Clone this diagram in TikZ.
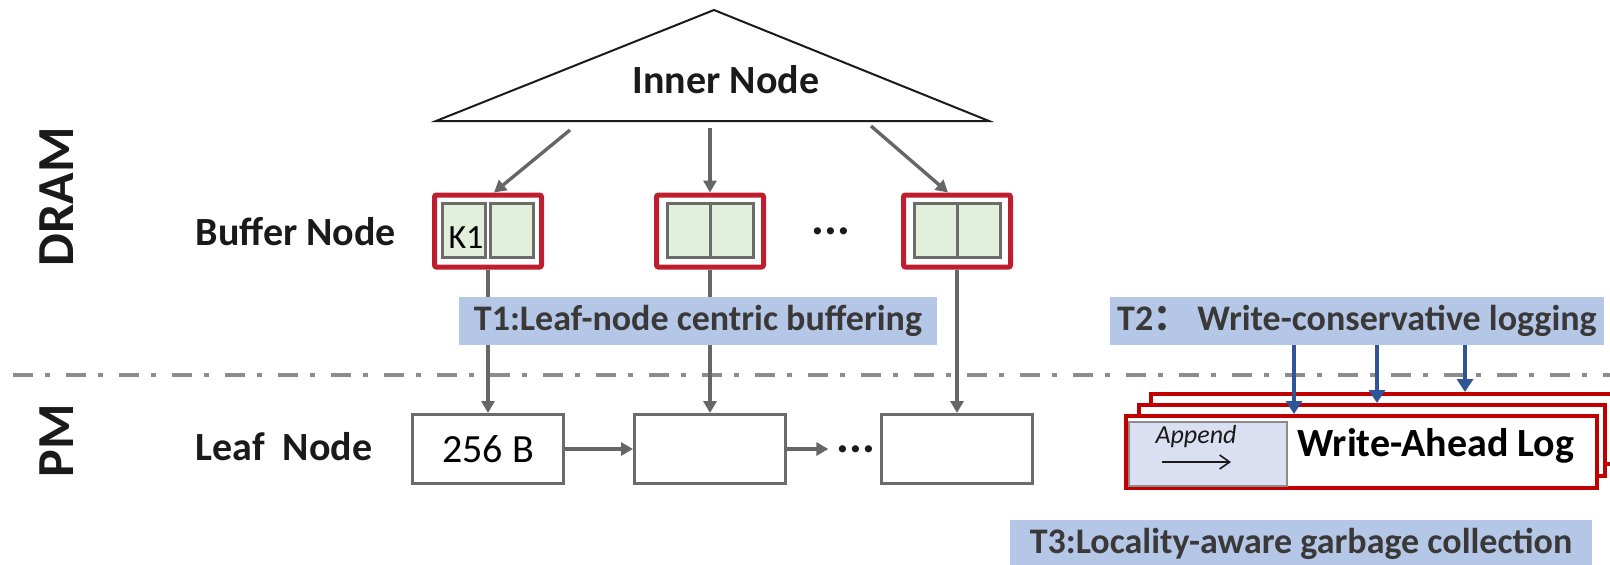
\documentclass[tikz,border=0pt]{standalone}
\usepackage{fontspec}
\setmainfont{Carlito}
\newfontfamily\cjk{Noto Sans CJK SC}
\usepackage{tikz}
\usetikzlibrary{arrows.meta,calc}
\usepackage{xcolor}
\definecolor{bufred}{HTML}{BE1E2D}
\definecolor{walred}{HTML}{C00000}
\definecolor{cellgreen}{HTML}{E2EFDA}
\definecolor{cellgray}{HTML}{6B6B6B}
\definecolor{arrowgray}{HTML}{666666}
\definecolor{labelblue}{HTML}{B4C7E7}
\definecolor{labeltext}{HTML}{3B3838}
\definecolor{arrowblue}{HTML}{2F5597}
\definecolor{sepgray}{HTML}{8C8C8C}
\definecolor{appfill}{HTML}{DAE0F2}
\definecolor{appgray}{HTML}{8C8C8C}
\definecolor{textblack}{HTML}{1A1A1A}

\begin{document}
\begin{tikzpicture}[x=0.5pt,y=-0.5pt]
  \tikzset{bufnode/.style={draw=bufred,line width=2.5pt,rounded corners=1pt,minimum width=53.5pt,minimum height=36pt,inner sep=0pt}}
  \tikzset{bufcell/.style={draw=cellgray,fill=cellgreen,line width=1.5pt,minimum width=21.5pt,minimum height=27pt,inner sep=0pt}}
  \tikzset{leafnode/.style={draw=cellgray,line width=1.5pt,minimum width=75.5pt,minimum height=34.5pt,inner sep=0pt,text=black,font=\fontsize{20}{24}\selectfont}}
  \tikzset{walnode/.style={draw=walred,fill=white,line width=2pt,inner sep=0pt}}
  \tikzset{techlabel/.style={fill=labelblue,text=labeltext,inner sep=0pt,minimum height=24pt,font=\fontsize{18}{22}\selectfont\bfseries}}
  \tikzset{sidelabel/.style={text=textblack,inner sep=0pt,font=\fontsize{20}{24}\selectfont\bfseries}}
  \tikzset{memlabel/.style={rotate=90,text=textblack,inner sep=0pt,font=\fontsize{26}{30}\selectfont\bfseries}}
  \tikzset{dotsnode/.style={text=textblack,inner sep=0pt,font=\fontsize{24}{26}\selectfont\bfseries}}
  \tikzset{grayedge/.style={draw=arrowgray,line width=1.7pt,-{Triangle[length=6pt,width=6.5pt]}}}
  \tikzset{blueedge/.style={draw=arrowblue,line width=2.2pt,-{Triangle[length=6.5pt,width=8pt]}}}
  \useasboundingbox (0,0) rectangle (1610,564);
  \node[memlabel] (dram) at (57,197) {DRAM};
  \node[memlabel] (pm) at (57,441) {PM};
  \coordinate (apex) at (714,10);
  \coordinate (baseL) at (436,121);
  \coordinate (baseR) at (989,121);
  \draw[line width=1pt,draw=textblack] (apex) -- (baseR) -- (baseL) -- cycle;
  \node[sidelabel] (inner) at (726,80) {Inner Node};
  \node[sidelabel] (buflabel) at (296,232) {Buffer Node};
  \node[sidelabel] (leaflabel) at (284,447) {Leaf\ \ Node};
  \node[bufnode] (bufA) at (488,231) {};
  \node[bufcell] (cellA1) at (464,230) {};
  \node[bufcell] (cellA2) at (512,230) {};
  \node[text=black,inner sep=0pt,font=\fontsize{17}{20}\selectfont] (k1) at (466,238) {K1};
  \node[bufnode] (bufB) at (710,231) {};
  \node[bufcell] (cellB1) at (688.5,230) {};
  \node[bufcell] (cellB2) at (731.5,230) {};
  \node[dotsnode] (dotsA) at (831,231) {...};
  \node[bufnode] (bufC) at (957,231) {};
  \node[bufcell] (cellC1) at (935.5,230) {};
  \node[bufcell] (cellC2) at (978.5,230) {};
  \node[leafnode] (leafA) at (488,449) {256 B};
  \node[leafnode] (leafB) at (710,449) {};
  \node[dotsnode] (dotsB) at (856,449) {...};
  \node[leafnode] (leafC) at (957,449) {};
  \coordinate (inA) at (570,130);
  \coordinate (inB) at (710,128);
  \coordinate (inC) at (871,126);
  \draw[grayedge] (inA) -- ($(bufA.north)+(6,0)$);
  \draw[grayedge] (inB) -- (bufB.north);
  \draw[grayedge] (inC) -- ($(bufC.north)+(-9,0)$);
  \coordinate (sepL) at (13,375);
  \coordinate (sepR) at (1610,375);
  \draw[draw=sepgray,line width=2.2pt,dash pattern=on 10pt off 6pt on 2.5pt off 8pt] (sepL) -- (sepR);
  \draw[grayedge] (bufA.south) -- (leafA.north);
  \draw[grayedge] (bufB.south) -- (leafB.north);
  \draw[grayedge] (bufC.south) -- (leafC.north);
  \draw[grayedge] (leafA.east) -- (leafB.west);
  \draw[grayedge,shorten >=4pt] (leafB.east) -- (dotsB.west);
  \node[techlabel,minimum width=239pt] (t1) at (698,321) {T1:Leaf-node centric buffering};
  \node[techlabel,minimum width=247pt] (t2) at (1357,321) {T2{\cjk ：}\ Write-conservative logging};
  \node[techlabel,minimum width=291pt] (t3) at (1301,544) {T3:Locality-aware garbage collection};
  \node[walnode,minimum width=234.5pt,minimum height=35pt] (walC) at (1385,429) {};
  \node[walnode,minimum width=233pt,minimum height=35.5pt] (walB) at (1372,440.5) {};
  \node[walnode,minimum width=235.5pt,minimum height=36pt] (walA) at (1361.5,452) {};
  \node[draw=appgray,fill=appfill,line width=1pt,minimum width=79pt,minimum height=32pt,inner sep=0pt] (app) at (1207.5,453.5) {};
  \node[text=textblack,inner sep=0pt,font=\fontsize{13}{16}\selectfont\itshape] (apptxt) at (1196,437) {Append};
  \coordinate (apS) at (1162,462);
  \coordinate (apE) at (1231,462);
  \draw[draw=textblack,line width=0.8pt,-{Straight Barb[length=5pt,width=7pt]}] (apS) -- (apE);
  \node[sidelabel,text=black] (waltxt) at (1436,446) {Write-Ahead Log};
  \coordinate (xa) at (1294,0);
  \coordinate (xb) at (1377,0);
  \coordinate (xc) at (1465,0);
  \draw[blueedge] (t2.south -| xa) -- (walA.north -| xa);
  \draw[blueedge] (t2.south -| xb) -- (walB.north -| xb);
  \draw[blueedge] (t2.south -| xc) -- (walC.north -| xc);
\end{tikzpicture}
\end{document}
